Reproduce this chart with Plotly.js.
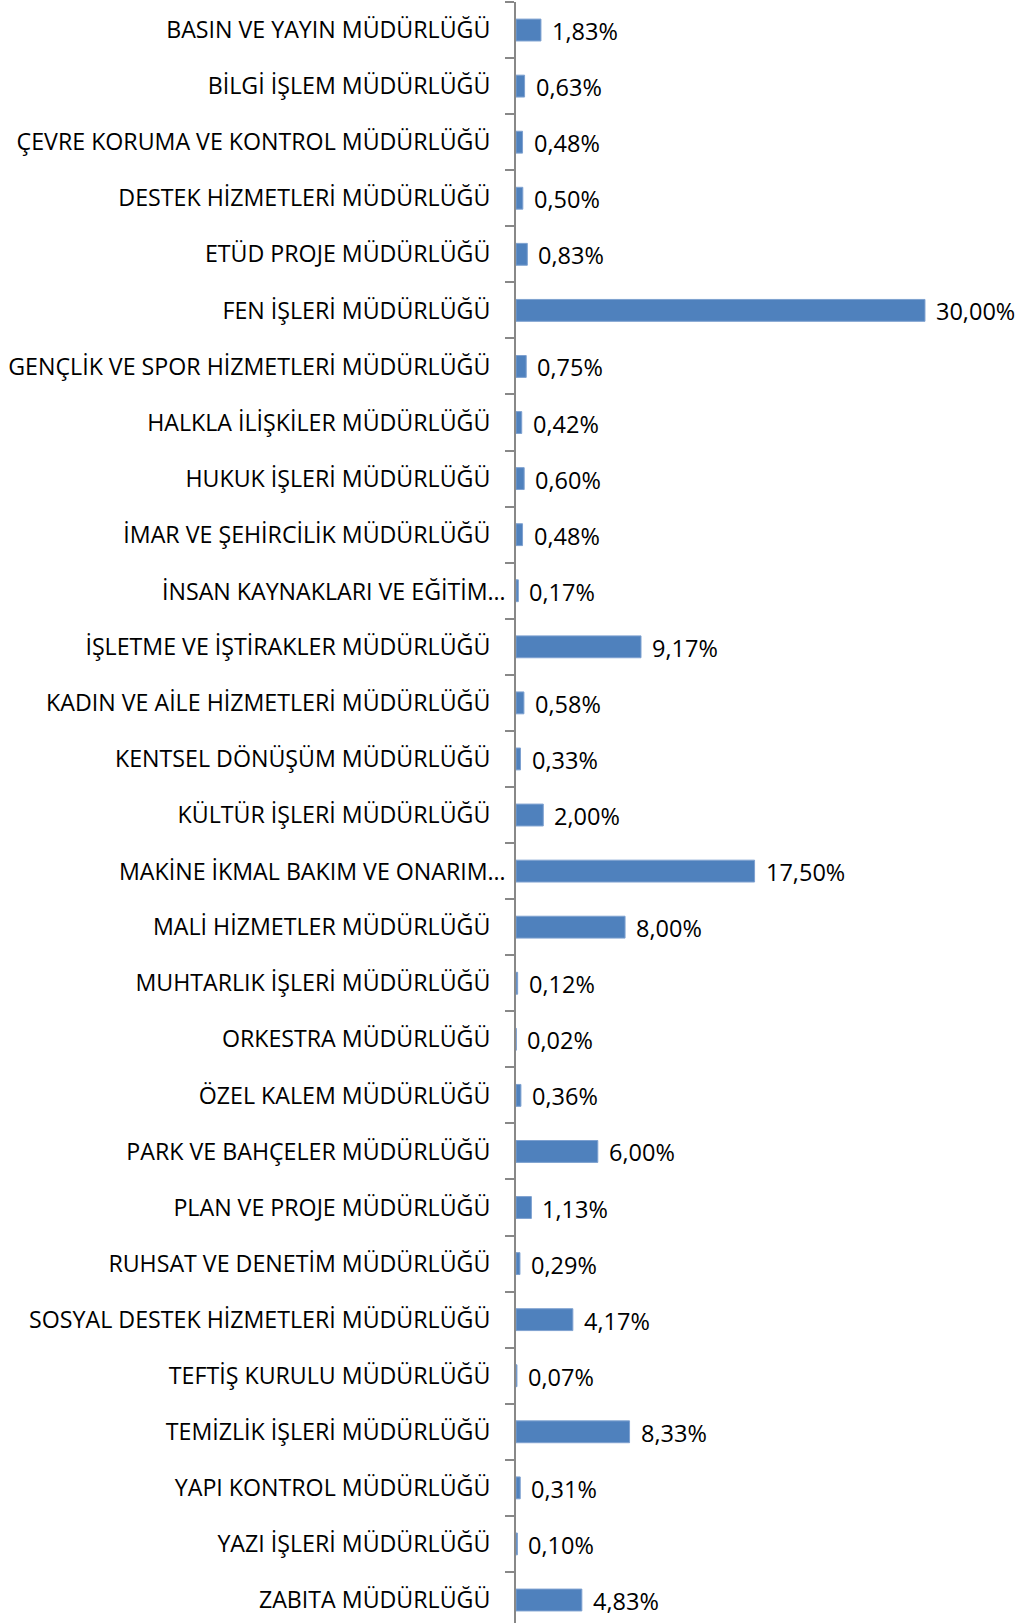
<!DOCTYPE html>
<html>
<head>
<meta charset="utf-8">
<script src="https://cdn.plot.ly/plotly-3.0.1.min.js"></script>
<style>html,body{margin:0;padding:0;background:#fff;}#chart{width:1020px;height:1623px;}</style>
</head>
<body>
<div id="chart"></div>
<script>
const categories = [
  "BASIN VE YAYIN MÜDÜRLÜĞÜ",
  "BİLGİ İŞLEM MÜDÜRLÜĞÜ",
  "ÇEVRE KORUMA VE KONTROL MÜDÜRLÜĞÜ",
  "DESTEK HİZMETLERİ MÜDÜRLÜĞÜ",
  "ETÜD PROJE MÜDÜRLÜĞÜ",
  "FEN İŞLERİ MÜDÜRLÜĞÜ",
  "GENÇLİK VE SPOR HİZMETLERİ MÜDÜRLÜĞÜ",
  "HALKLA İLİŞKİLER MÜDÜRLÜĞÜ",
  "HUKUK İŞLERİ MÜDÜRLÜĞÜ",
  "İMAR VE ŞEHİRCİLİK MÜDÜRLÜĞÜ",
  "İNSAN KAYNAKLARI VE EĞİTİM…",
  "İŞLETME VE İŞTİRAKLER MÜDÜRLÜĞÜ",
  "KADIN VE AİLE HİZMETLERİ MÜDÜRLÜĞÜ",
  "KENTSEL DÖNÜŞÜM MÜDÜRLÜĞÜ",
  "KÜLTÜR İŞLERİ MÜDÜRLÜĞÜ",
  "MAKİNE İKMAL BAKIM VE ONARIM…",
  "MALİ HİZMETLER MÜDÜRLÜĞÜ",
  "MUHTARLIK İŞLERİ MÜDÜRLÜĞÜ",
  "ORKESTRA MÜDÜRLÜĞÜ",
  "ÖZEL KALEM MÜDÜRLÜĞÜ",
  "PARK VE BAHÇELER MÜDÜRLÜĞÜ",
  "PLAN VE PROJE MÜDÜRLÜĞÜ",
  "RUHSAT VE DENETİM MÜDÜRLÜĞÜ",
  "SOSYAL DESTEK HİZMETLERİ MÜDÜRLÜĞÜ",
  "TEFTİŞ KURULU MÜDÜRLÜĞÜ",
  "TEMİZLİK İŞLERİ MÜDÜRLÜĞÜ",
  "YAPI KONTROL MÜDÜRLÜĞÜ",
  "YAZI İŞLERİ MÜDÜRLÜĞÜ",
  "ZABITA MÜDÜRLÜĞÜ"
];
const values = [
  1.83, 0.63, 0.48, 0.50, 0.83, 30.00, 0.75, 0.42, 0.60, 0.48,
  0.17, 9.17, 0.58, 0.33, 2.00, 17.50, 8.00, 0.12, 0.02, 0.36,
  6.00, 1.13, 0.29, 4.17, 0.07, 8.33, 0.31, 0.10, 4.83
];
const valueLabels = values.map(v => v.toFixed(2).replace('.', ',') + '%');

const FONT = '"Open Sans", "Noto Sans", sans-serif';
const isTruncated = categories.map(c => c.endsWith('…'));

const trace = {
  type: 'bar',
  orientation: 'h',
  y: categories,
  x: values,
  marker: {color: '#4f81bd', line: {color: '#7ea1d0', width: 1}},
  hoverinfo: 'none'
};

const annotations = values.map((v, i) => ({
  x: v, y: categories[i], xref: 'x', yref: 'y',
  text: valueLabels[i], showarrow: false,
  xanchor: 'left', yanchor: 'middle', xshift: 9, yshift: -1,
  font: {family: FONT, size: 23.5, color: '#000'}
}));

// Truncated category labels overflow toward the axis (as in the original)
categories.forEach((c, i) => {
  if (isTruncated[i]) {
    annotations.push({
      x: 0, y: c, xref: 'paper', yref: 'y',
      text: c, showarrow: false,
      xanchor: 'right', yanchor: 'middle', xshift: -8,
      font: {family: FONT, size: 23.2, color: '#000'}
    });
  }
});

const layout = {
  width: 1020, height: 1623,
  margin: {l: 516, r: 0, t: 2, b: 0, pad: 0},
  paper_bgcolor: '#fff', plot_bgcolor: '#fff',
  showlegend: false,
  bargap: 0.61,
  xaxis: {range: [0, 36.97], visible: false, fixedrange: true},
  yaxis: {
    type: 'category',
    range: [28.41, -0.5],
    tickmode: 'array',
    tickvals: categories,
    ticktext: categories.map((c, i) => isTruncated[i] ? ' ' : c),
    showline: true, linecolor: '#888888', linewidth: 2,
    ticks: 'outside', tickson: 'boundaries', ticklen: 9, tickcolor: '#888888', tickwidth: 2,
    showgrid: false, zeroline: false,
    ticklabelstandoff: 19,
    tickfont: {family: FONT, size: 23.2, color: '#000'},
    automargin: false
  },
  annotations: annotations
};

Plotly.newPlot('chart', [trace], layout, {displayModeBar: false, staticPlot: true});
</script>
</body>
</html>
